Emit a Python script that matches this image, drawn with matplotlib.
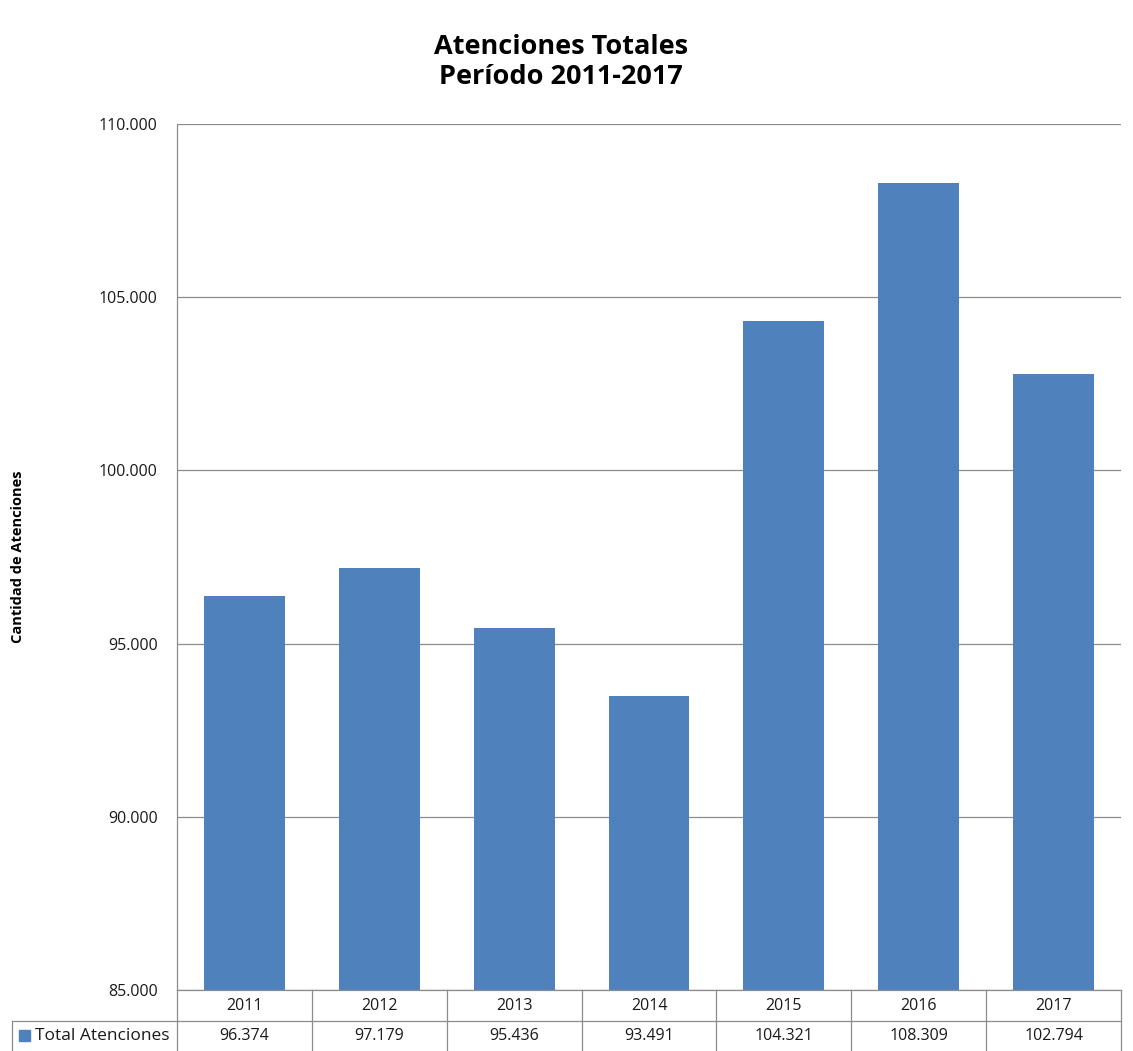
import matplotlib
matplotlib.use("Agg")
import matplotlib.pyplot as plt
from matplotlib.lines import Line2D
from matplotlib.patches import Rectangle

years = ["2011", "2012", "2013", "2014", "2015", "2016", "2017"]
values = [96374, 97179, 95436, 93491, 104321, 108309, 102794]
value_labels = ["96.374", "97.179", "95.436", "93.491", "104.321", "108.309", "102.794"]
yticks = [85000, 90000, 95000, 100000, 105000, 110000]
ytick_labels = ["85.000", "90.000", "95.000", "100.000", "105.000", "110.000"]
series_name = "Total Atenciones"
title = "Atenciones Totales\nPeríodo 2011-2017"
ylabel = "Cantidad de Atenciones"

plt.rcParams['font.family'] = ['Open Sans', 'DejaVu Sans']
W, H = 1133, 1051
fig = plt.figure(figsize=(W / 100, H / 100), dpi=100)
L, R, T, B = 177, 1121, 124, 990
ax = fig.add_axes([L / W, 1 - B / H, (R - L) / W, (B - T) / H])

color = "#4F81BD"
grid_c = "#8C8C8C"
txt_c = "#1A1A1A"
x = list(range(len(years)))
ax.bar(x, [v - 85000 for v in values], bottom=85000, width=0.6, color=color, zorder=3)
ax.set_xlim(-0.5, len(years) - 0.5)
ax.set_ylim(85000, 110000)
ax.set_yticks(yticks)
ax.set_yticklabels(ytick_labels, fontsize=11.5, color=txt_c)
ax.tick_params(axis='y', length=0, pad=14)
ax.tick_params(axis='x', length=0, labelbottom=False)
ax.grid(axis='y', color=grid_c, linewidth=0.9, zorder=0)
for s in ['top', 'right', 'bottom']:
    ax.spines[s].set_visible(False)
ax.spines['left'].set_color(grid_c)
ax.spines['left'].set_linewidth(0.9)

fig.text(0.495, 1 - 62 / H, title, ha='center', va='center', fontsize=19.5, fontweight='bold', linespacing=1.25)
fig.text(18 / W, 1 - 557 / H, ylabel, rotation=90, ha='center', va='center', fontsize=10.5, fontweight='bold')

# data table
def fx(px):
    return px / W
def fy(py):
    return 1 - py / H

row1_top, row_mid, row2_bot = 990, 1021, 1051
col_w = (R - L) / len(years)
lw = 0.9
fig.add_artist(Line2D([fx(L), fx(R)], [fy(row1_top), fy(row1_top)], color=grid_c, lw=lw))
fig.add_artist(Line2D([fx(12), fx(R)], [fy(row_mid), fy(row_mid)], color=grid_c, lw=lw))
for i in range(len(years) + 1):
    xp = L + i * col_w
    fig.add_artist(Line2D([fx(xp), fx(xp)], [fy(row1_top), fy(row2_bot)], color=grid_c, lw=lw))
fig.add_artist(Line2D([fx(12), fx(12)], [fy(row_mid), fy(row2_bot)], color=grid_c, lw=lw))

for i, (yr, vl) in enumerate(zip(years, value_labels)):
    cx = L + (i + 0.5) * col_w
    fig.text(fx(cx), fy((row1_top + row_mid) / 2), yr, ha='center', va='center', fontsize=11.5, color=txt_c)
    fig.text(fx(cx), fy((row_mid + row2_bot) / 2), vl, ha='center', va='center', fontsize=11.5, color=txt_c)

fig.add_artist(Rectangle((fx(19), fy(1041)), 11 / W, 11 / H, color=color))
fig.text(fx(35), fy((row_mid + row2_bot) / 2), series_name, ha='left', va='center', fontsize=12.5, color=txt_c)

fig.savefig("out.png", dpi=100)
